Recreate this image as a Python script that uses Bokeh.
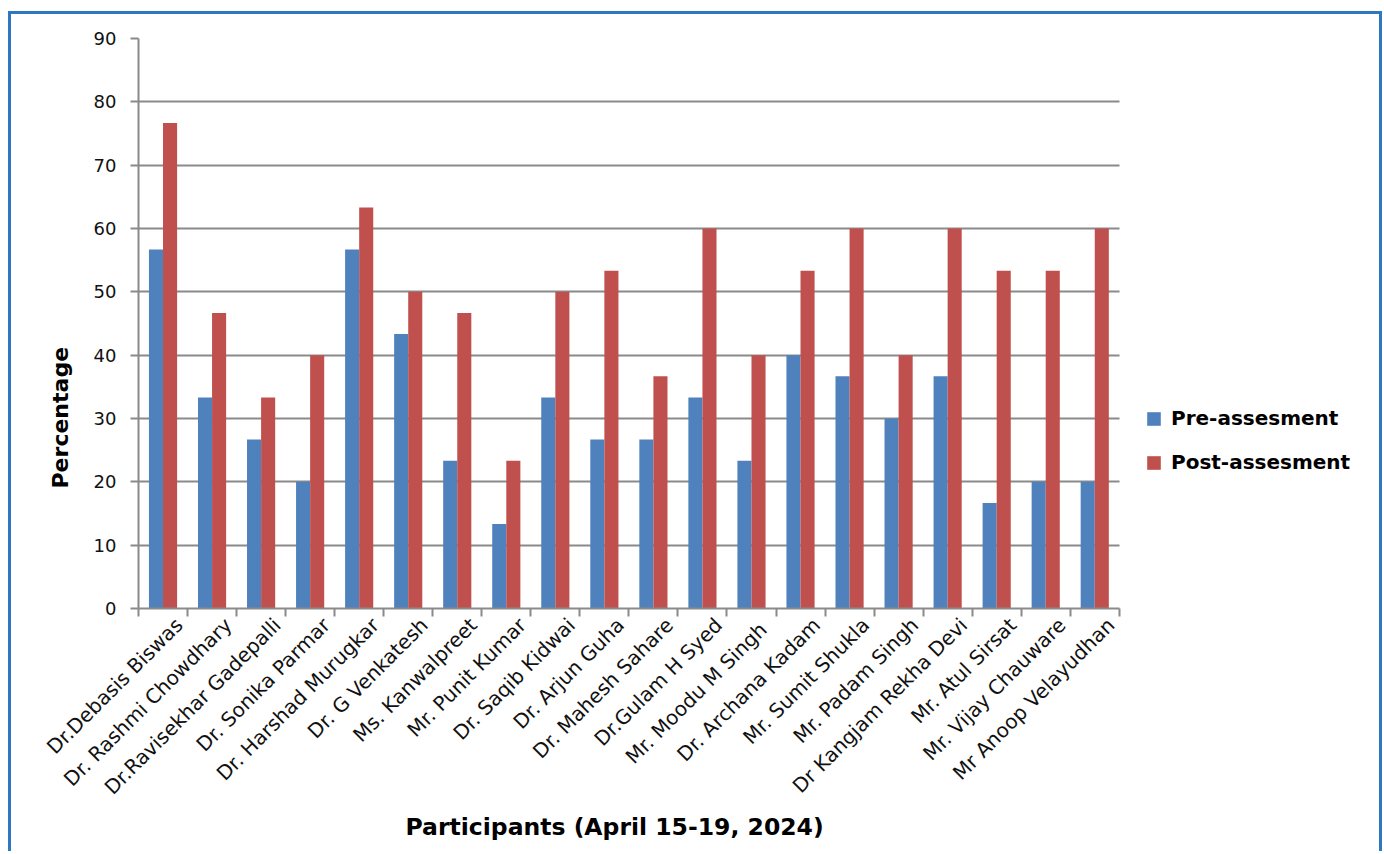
import math
from bokeh.plotting import figure
from bokeh.models import (ColumnDataSource, Range1d, FixedTicker, CustomJSTickFormatter,
                          Legend, LegendItem, Title)
from bokeh.transform import dodge
from bokeh.embed import file_html
from bokeh.resources import INLINE

participants = [
    "Dr.Debasis Biswas", "Dr. Rashmi Chowdhary", "Dr.Ravisekhar Gadepalli",
    "Dr. Sonika Parmar", "Dr. Harshad Murugkar", "Dr. G Venkatesh",
    "Ms. Kanwalpreet", "Mr. Punit Kumar", "Dr. Saqib Kidwai", "Dr. Arjun Guha",
    "Dr. Mahesh Sahare", "Dr.Gulam H Syed", "Mr.  Moodu M Singh",
    "Dr. Archana Kadam", "Mr. Sumit Shukla", "Mr. Padam Singh",
    "Dr Kangjam Rekha Devi", "Mr. Atul Sirsat", "Mr. Vijay Chauware",
    "Mr Anoop Velayudhan",
]
pre_assessment = [56.67, 33.33, 26.67, 20.0, 56.67, 43.33, 23.33, 13.33, 33.33, 26.67,
                  26.67, 33.33, 23.33, 40.0, 36.67, 30.0, 36.67, 16.67, 20.0, 20.0]
post_assessment = [76.67, 46.67, 33.33, 40.0, 63.33, 50.0, 46.67, 23.33, 50.0, 53.33,
                   36.67, 60.0, 40.0, 53.33, 60.0, 40.0, 60.0, 53.33, 53.33, 60.0]
y_ticks = [0, 10, 20, 30, 40, 50, 60, 70, 80, 90]

n = len(participants)
src = ColumnDataSource(dict(
    x=[i + 0.5 for i in range(n)],
    name=participants,
    pre=pre_assessment,
    post=post_assessment,
))

BLUE = "#4f81bd"
RED = "#c0504d"
GRID = "#8a8a8a"
FONT = "DejaVu Sans"

# frame spans the legend area too; categories occupy the left part (0..n)
x_end = n * (1374 - 138) / (1120 - 138) * (988 / 982)

p = figure(width=1374, height=840, output_backend="svg", toolbar_location=None,
           x_range=Range1d(0, x_end), y_range=Range1d(0, 90),
           min_border_left=127, min_border_top=24, min_border_right=5,
           min_border_bottom=246)
p.styles = {"border-top": "3px solid #2e78c2", "border-left": "3px solid #2e78c2",
            "border-right": "3px solid #2e78c2", "margin-left": "8px",
            "margin-top": "11px"}

bw = 0.287
r_pre = p.vbar(x=dodge("x", -bw / 2, range=p.x_range), top="pre", width=bw,
               source=src, fill_color=BLUE, line_color=None)
r_post = p.vbar(x=dodge("x", bw / 2, range=p.x_range), top="post", width=bw,
                source=src, fill_color=RED, line_color=None)

p.outline_line_color = None
p.background_fill_color = "white"
p.border_fill_color = "white"

# x axis
xa = p.xaxis[0]
xa.bounds = (0, n)
xa.ticker = FixedTicker(ticks=[i + 0.83 for i in range(n)], minor_ticks=list(range(n + 1)))
xa.formatter = CustomJSTickFormatter(args=dict(names=participants),
                                     code="return names[Math.floor(tick)];")
xa.major_label_orientation = math.pi / 4
xa.major_tick_out = 0
xa.major_tick_in = 0
xa.minor_tick_out = 8
xa.minor_tick_in = 0
xa.minor_tick_line_color = GRID
xa.minor_tick_line_width = 2
xa.axis_line_color = GRID
xa.axis_line_width = 2
xa.major_label_text_font = FONT
xa.major_label_text_font_size = "20px"
xa.major_label_text_color = "#111111"
xa.major_label_standoff = 5

# y axis
ya = p.yaxis[0]
ya.ticker = FixedTicker(ticks=y_ticks, minor_ticks=[])
ya.major_tick_out = 8
ya.major_tick_in = 0
ya.major_tick_line_color = GRID
ya.major_tick_line_width = 2
ya.axis_line_color = GRID
ya.axis_line_width = 2
ya.major_label_text_font = FONT
ya.major_label_text_font_size = "18px"
ya.major_label_text_color = "#111111"
ya.major_label_standoff = 14

p.xgrid.grid_line_color = None
p.ygrid.ticker = FixedTicker(ticks=y_ticks)
p.ygrid.grid_line_color = GRID
p.ygrid.grid_line_width = 2
p.ygrid.cross_bounds = (0, n)

# axis titles
x_title = Title(text="Participants (April 15-19, 2024)", align="left", offset=267,
                text_font=FONT, text_font_style="bold", text_font_size="23.5px",
                text_color="black", standoff=1)
p.add_layout(x_title, "below")
y_title = Title(text="Percentage", align="left", offset=120,
                text_font=FONT, text_font_style="bold", text_font_size="22px",
                text_color="black", standoff=35)
p.add_layout(y_title, "left")

legend = Legend(items=[LegendItem(label="Pre-assesment", renderers=[r_pre]),
                       LegendItem(label="Post-assesment", renderers=[r_post])],
                location=(1007, 134))
legend.label_text_font = FONT
legend.label_text_font_style = "bold"
legend.label_text_font_size = "20px"
legend.label_text_color = "black"
legend.glyph_width = 17
legend.glyph_height = 17
legend.label_height = 20
legend.spacing = 20
legend.border_line_color = None
legend.background_fill_alpha = 0
legend.label_standoff = 9
p.add_layout(legend, "center")

open("out.html", "w").write(file_html(p, INLINE))
